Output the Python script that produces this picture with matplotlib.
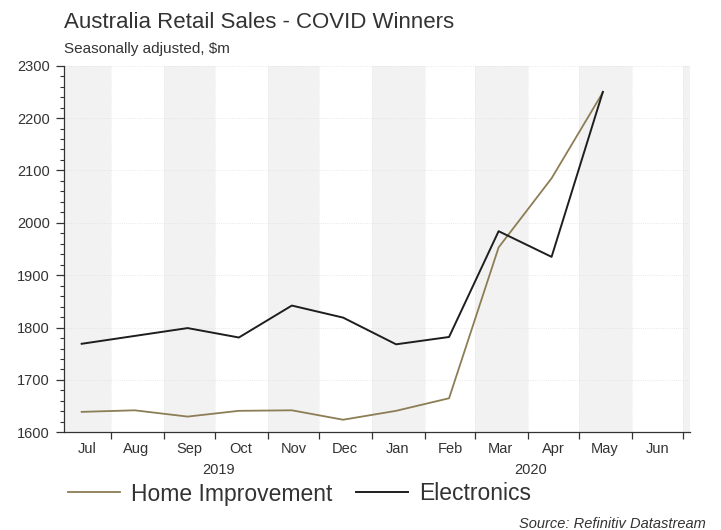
import datetime as dt
import matplotlib
matplotlib.use("Agg")
import matplotlib.pyplot as plt
import matplotlib.dates as mdates
from matplotlib.ticker import MultipleLocator

plt.rcParams['font.family'] = ['Liberation Sans', 'DejaVu Sans']

# Monthly retail turnover, seasonally adjusted ($m)
months = ["Jul", "Aug", "Sep", "Oct", "Nov", "Dec", "Jan", "Feb", "Mar", "Apr", "May"]
years = [2019] * 6 + [2020] * 5
home_improvement = [1639, 1642, 1630, 1641, 1642, 1624, 1641, 1665, 1953, 2085, 2249]
electronics = [1769, 1784, 1799, 1781, 1842, 1819, 1768, 1782, 1984, 1935, 2250]

tick_months = ["Jul", "Aug", "Sep", "Oct", "Nov", "Dec", "Jan", "Feb", "Mar", "Apr", "May", "Jun"]
year_labels = ["2019", "2020"]

TEXT = "#333333"
OLIVE = "#8c7d55"
INK = "#1e1e1e"

month_num = {m: i + 1 for i, m in enumerate(
    ["Jan", "Feb", "Mar", "Apr", "May", "Jun", "Jul", "Aug", "Sep", "Oct", "Nov", "Dec"])}
dates = [dt.datetime(y, month_num[m], 15) for m, y in zip(months, years)]

fig = plt.figure(figsize=(7.21, 5.30), dpi=100)
ax = fig.add_axes([64 / 721, 1 - 432.3 / 530, 626 / 721, 366.6 / 530])

x0 = dt.datetime(2019, 7, 4, 16)
x1 = dt.datetime(2020, 7, 5)

# alternating month shading, starting from July 2019
bounds = [dt.datetime(2019 + (6 + k) // 12, (6 + k) % 12 + 1, 1) for k in range(14)]
for k in range(13):
    if k % 2 == 0:
        ax.axvspan(max(bounds[k], x0), min(bounds[k + 1], x1), color="#f2f2f2", lw=0, zorder=0)

ax.plot(dates, home_improvement, color=OLIVE, lw=1.3, zorder=3, label="Home Improvement")
ax.plot(dates, electronics, color=INK, lw=1.4, zorder=4, label="Electronics")

ax.set_xlim(x0, x1)
ax.set_ylim(1600, 2300)

ax.yaxis.set_major_locator(MultipleLocator(100))
ax.yaxis.set_minor_locator(MultipleLocator(20))
ax.grid(axis="y", which="major", color="#e0e0e0", lw=0.6, ls=":", zorder=1)

# month boundaries carry the ticks, month names sit mid-month
ax.set_xticks(bounds[1:13])
ax.set_xticklabels([])
for b in bounds[1:13]:
    ax.axvline(b, color="#e6e6e6", lw=0.6, ls=":", zorder=1)
label_pos = [dt.datetime(2019 + (6 + k) // 12, (6 + k) % 12 + 1, 16) for k in range(12)]
label_pos[0] = dt.datetime(2019, 7, 18)
for pos, name in zip(label_pos, tick_months):
    ax.text(pos, -0.045, name, transform=ax.get_xaxis_transform(), ha="center", va="center",
            fontsize=10.5, color=TEXT)

x0n, x1n = mdates.date2num(x0), mdates.date2num(x1)
jan = mdates.date2num(dt.datetime(2020, 1, 1))
for (a, b), yl in zip([(x0n, jan), (jan, x1n)], year_labels):
    ax.text((a + b) / 2, -0.102, yl, transform=ax.get_xaxis_transform(), ha="center", va="center",
            fontsize=10.5, color=TEXT)

ax.tick_params(axis="x", which="major", length=5, width=0.9, color="#333333")
ax.tick_params(axis="y", which="major", length=6, width=0.9, color="#333333",
               labelsize=10.5, labelcolor=TEXT, pad=4)
ax.tick_params(axis="y", which="minor", length=3, width=0.8, color="#333333")

for side in ["top", "right"]:
    ax.spines[side].set_visible(False)
for side in ["left", "bottom"]:
    ax.spines[side].set_color("#333333")
    ax.spines[side].set_linewidth(0.9)

fig.text(64 / 721, 1 - 22 / 530, "Australia Retail Sales - COVID Winners", fontsize=16,
         color=TEXT, ha="left", va="center")
fig.text(64 / 721, 1 - 49 / 530, "Seasonally adjusted, $m", fontsize=11, color=TEXT,
         ha="left", va="center")

fig.legend(loc="center left", bbox_to_anchor=(68 / 721, 1 - 494 / 530), ncol=2, frameon=False,
           fontsize=16.5, handlelength=2.27, handletextpad=0.48, columnspacing=1.05,
           borderpad=0, borderaxespad=0, labelcolor=TEXT)

fig.text(706 / 721, 1 - 527.5 / 530, "Source: Refinitiv Datastream", fontsize=10.5,
         style="italic", color=TEXT, ha="right", va="baseline")

fig.savefig("out.png", dpi=100)
